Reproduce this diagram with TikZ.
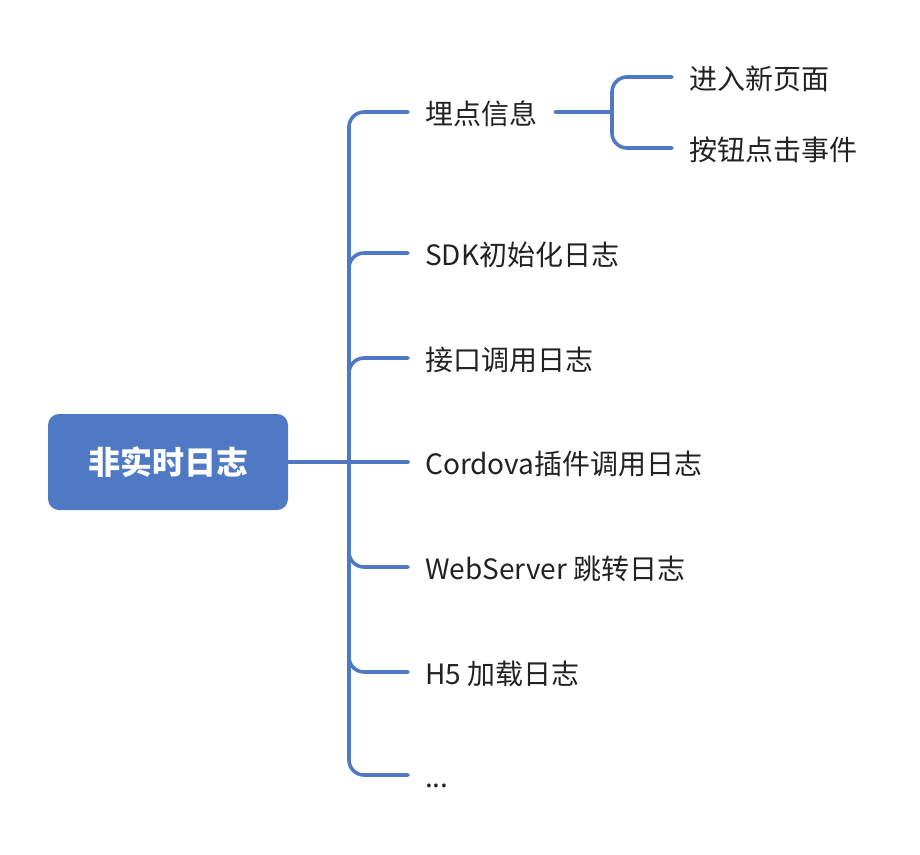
\documentclass[tikz,border=0pt]{standalone}
\usepackage{fontspec}
\setmainfont{Noto Sans CJK SC}
\definecolor{mmblue}{RGB}{80,121,197}
\definecolor{mmtext}{RGB}{34,34,34}
\begin{document}
\begin{tikzpicture}[x=1pt,y=-1pt,
  rootbox/.style={fill=mmblue, rounded corners=11pt, minimum width=240pt, minimum height=96pt, inner sep=0pt, text=white, font=\fontsize{32}{36}\selectfont\bfseries},
  leaf/.style={anchor=west, inner sep=0pt, text=mmtext, text height=26pt, text depth=1pt, font=\fontsize{28}{31}\selectfont},
  branch/.style={draw=mmblue, line width=3.6pt, rounded corners=15pt, line cap=round}
]
\useasboundingbox (0,0) rectangle (920,854);
\node[rootbox] (root) at (168,462) {非实时日志};
\coordinate (hub) at (349,462);
\node[leaf] (t1) at (425,112) {埋点信息};
\node[leaf] (t2) at (425,253) {SDK初始化日志};
\node[leaf] (t3) at (425,358) {接口调用日志};
\node[leaf] (t4) at (425,462) {Cordova插件调用日志};
\node[leaf] (t5) at (425,567) {WebServer 跳转日志};
\node[leaf] (t6) at (425,672) {H5 加载日志};
\node[leaf] (t7) at (425,775) {...};
\node[leaf] (s1) at (689,77) {进入新页面};
\node[leaf] (s2) at (689,148) {按钮点击事件};
\coordinate (sub) at (612,112);
\draw[branch] (root.east) -- ([xshift=-17pt]t4.west);
\foreach \t in {t1,t2,t3,t5,t6,t7}
  \draw[branch] (hub) |- ([xshift=-17pt]\t.west);
\draw[branch] ([xshift=18pt]t1.east) -- (sub);
\draw[branch] (sub) |- ([xshift=-17pt]s1.west);
\draw[branch] (sub) |- ([xshift=-17pt]s2.west);
\end{tikzpicture}
\end{document}
